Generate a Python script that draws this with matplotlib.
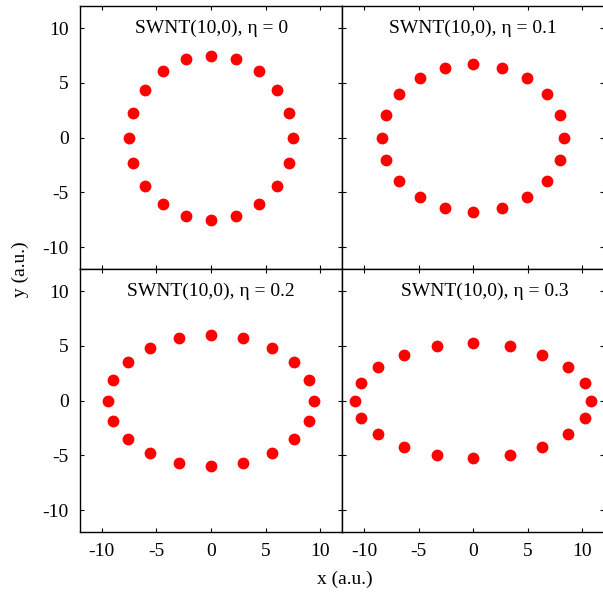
import matplotlib
matplotlib.use('Agg')
from matplotlib import pyplot as plt

plt.rcParams['font.family'] = ['Liberation Serif', 'DejaVu Serif']
plt.rcParams['axes.unicode_minus'] = False

etas = ['0', '0.1', '0.2', '0.3']
title_x = [0, 0, 0, 1.1]

x_eta0 = [7.5, 7.15, 6.05, 4.4, 2.3, 0, -2.3, -4.4, -6.05, -7.15,
          -7.5, -7.15, -6.05, -4.4, -2.3, 0, 2.3, 4.4, 6.05, 7.15]
y_eta0 = [0, 2.3, 4.4, 6.05, 7.15, 7.5, 7.15, 6.05, 4.4, 2.3,
          0, -2.3, -4.4, -6.05, -7.15, -7.5, -7.15, -6.05, -4.4, -2.3]

x_eta1 = [8.35, 7.95, 6.75, 4.9, 2.6, 0, -2.6, -4.9, -6.75, -7.95,
          -8.35, -7.95, -6.75, -4.9, -2.6, 0, 2.6, 4.9, 6.75, 7.95]
y_eta1 = [0, 2.05, 3.95, 5.45, 6.4, 6.75, 6.4, 5.45, 3.95, 2.05,
          0, -2.05, -3.95, -5.45, -6.4, -6.75, -6.4, -5.45, -3.95, -2.05]

x_eta2 = [9.4, 8.95, 7.6, 5.55, 2.95, 0, -2.95, -5.55, -7.6, -8.95,
          -9.4, -8.95, -7.6, -5.55, -2.95, 0, 2.95, 5.55, 7.6, 8.95]
y_eta2 = [0, 1.85, 3.5, 4.82, 5.7, 6.0, 5.7, 4.82, 3.5, 1.85,
          0, -1.85, -3.5, -4.82, -5.7, -6.0, -5.7, -4.82, -3.5, -1.85]

x_eta3 = [10.8, 10.25, 8.7, 6.3, 3.35, 0, -3.35, -6.3, -8.7, -10.25,
          -10.8, -10.25, -8.7, -6.3, -3.35, 0, 3.35, 6.3, 8.7, 10.25]
y_eta3 = [0, 1.6, 3.05, 4.2, 4.97, 5.25, 4.97, 4.2, 3.05, 1.6,
          0, -1.6, -3.05, -4.2, -4.97, -5.25, -4.97, -4.2, -3.05, -1.6]

xs = [x_eta0, x_eta1, x_eta2, x_eta3]
ys = [y_eta0, y_eta1, y_eta2, y_eta3]
ticks = [-10, -5, 0, 5, 10]

fig, axes = plt.subplots(2, 2, figsize=(6.03, 5.96), dpi=100,
                         sharex=True, sharey=True)
fig.subplots_adjust(left=0.1327, right=1.002, top=0.9894, bottom=0.1074,
                    wspace=0, hspace=0)

for i, ax in enumerate(axes.flat):
    ax.plot(xs[i], ys[i], 'o', color='#ff0000', markersize=8.5,
            markeredgewidth=0)
    ax.text(title_x[i], 10, 'SWNT(10,0), \u03b7 = ' + etas[i],
            ha='center', va='center', fontsize=14)
    ax.set_xlim(-12, 12)
    ax.set_ylim(-12, 12)
    ax.set_xticks(ticks)
    ax.set_yticks(ticks)
    ax.tick_params(direction='in', length=3.2, width=0.8, top=True,
                   right=True, labelsize=14, pad=8)
    for s in ax.spines.values():
        s.set_linewidth(1.0)

fig.text(0.033, 0.549, 'y (a.u.)', rotation=90, ha='center', va='center',
         fontsize=14)
fig.text(0.572, 0.028, 'x (a.u.)', ha='center', va='center', fontsize=14)

plt.savefig('out.png', dpi=100)
